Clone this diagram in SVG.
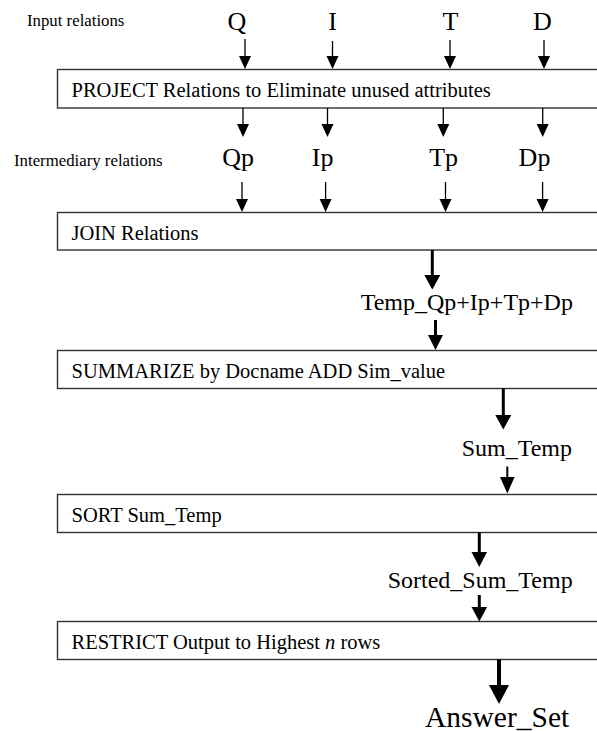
<svg xmlns="http://www.w3.org/2000/svg" width="597" height="731" viewBox="0 0 597 731">
<style>
  text { font-family: "Liberation Serif", "Times New Roman", serif; fill: #000; }
  .lab { font-size: 16.8px; }
  .rel { font-size: 26px; text-anchor: middle; }
  .mid { font-size: 24px; }
  .box { fill: #fff; stroke: #333; stroke-width: 1.4; }
  .bt { font-size: 20.5px; }
  .thin { stroke: #000; stroke-width: 1.3; fill: none; }
  .thk { stroke: #000; stroke-width: 3; fill: none; }
  .thk4 { stroke: #000; stroke-width: 4; fill: none; }
  .head { fill: #000; stroke: none; }
</style>
<rect width="597" height="731" fill="#fff"/>

<g id="labels">
  <text class="lab" x="27" y="26">Input relations</text>
  <text class="lab" x="14" y="166">Intermediary relations</text>
</g>

<g id="input-relations">
  <text class="rel" x="237" y="29.5">Q</text>
  <text class="rel" x="332.5" y="29.5">I</text>
  <text class="rel" x="450.5" y="29.5">T</text>
  <text class="rel" x="542.4" y="29.5">D</text>
</g>

<g id="project">
  <rect class="box" x="57.5" y="69.5" width="570" height="38.5"/>
  <text class="bt" x="71.5" y="96.8">PROJECT Relations to Eliminate unused attributes</text>
</g>

<g id="intermediary-relations">
  <text class="rel" x="238.2" y="165.5">Qp</text>
  <text class="rel" x="322.7" y="165.5">Ip</text>
  <text class="rel" x="443.6" y="165.5">Tp</text>
  <text class="rel" x="534.5" y="165.5">Dp</text>
</g>

<g id="join">
  <rect class="box" x="57.5" y="212.5" width="570" height="37.5"/>
  <text class="bt" x="71.5" y="239.5">JOIN Relations</text>
</g>

<g id="temp">
  <text class="mid" x="360.7" y="310">Temp_Qp+Ip+Tp+Dp</text>
</g>

<g id="summarize">
  <rect class="box" x="57.5" y="350.5" width="570" height="38"/>
  <text class="bt" x="71.5" y="377.8">SUMMARIZE by Docname ADD Sim_value</text>
</g>

<g id="sum-temp">
  <text class="mid" x="461.7" y="456">Sum_Temp</text>
</g>

<g id="sort">
  <rect class="box" x="57.5" y="494.5" width="570" height="38"/>
  <text class="bt" x="71.5" y="521.8">SORT Sum_Temp</text>
</g>

<g id="sorted-sum-temp">
  <text class="mid" x="387.7" y="588">Sorted_Sum_Temp</text>
</g>

<g id="restrict">
  <rect class="box" x="57.5" y="621.5" width="570" height="38"/>
  <text class="bt" x="71.5" y="648.5">RESTRICT Output to Highest <tspan font-style="italic">n</tspan> rows</text>
</g>

<g id="answer-set">
  <text x="425" y="726.5" font-size="29.5">Answer_Set</text>
</g>

<g id="connectors">
  <!-- inputs to PROJECT -->
  <line class="thin" x1="245" y1="39" x2="245" y2="57"/><polygon class="head" points="239,56 251,56 245,69"/>
  <line class="thin" x1="332.5" y1="41" x2="332.5" y2="57"/><polygon class="head" points="326.5,56 338.5,56 332.5,69"/>
  <line class="thin" x1="450" y1="40" x2="450" y2="57"/><polygon class="head" points="444,56 456,56 450,69"/>
  <line class="thin" x1="544" y1="40" x2="544" y2="57"/><polygon class="head" points="538,56 550,56 544,69"/>
  <!-- PROJECT to intermediary -->
  <line class="thin" x1="243" y1="108" x2="243" y2="125"/><polygon class="head" points="237,124 249,124 243,137"/>
  <line class="thin" x1="327.5" y1="108" x2="327.5" y2="125"/><polygon class="head" points="321.5,124 333.5,124 327.5,137"/>
  <line class="thin" x1="443.3" y1="108" x2="443.3" y2="125"/><polygon class="head" points="437.3,124 449.3,124 443.3,137"/>
  <line class="thin" x1="542.7" y1="108" x2="542.7" y2="125"/><polygon class="head" points="536.7,124 548.7,124 542.7,137"/>
  <!-- intermediary to JOIN -->
  <line class="thin" x1="242" y1="182" x2="242" y2="200"/><polygon class="head" points="236,199 248,199 242,212"/>
  <line class="thin" x1="325.6" y1="182" x2="325.6" y2="200"/><polygon class="head" points="319.6,199 331.6,199 325.6,212"/>
  <line class="thin" x1="445.5" y1="182" x2="445.5" y2="200"/><polygon class="head" points="439.5,199 451.5,199 445.5,212"/>
  <line class="thin" x1="542.6" y1="182" x2="542.6" y2="200"/><polygon class="head" points="536.6,199 548.6,199 542.6,212"/>
  <!-- JOIN to Temp -->
  <line class="thk" x1="432.3" y1="250" x2="432.3" y2="276"/><polygon class="head" points="424.3,275 440.3,275 432.3,289.5"/>
  <!-- Temp to SUMMARIZE -->
  <line class="thk" x1="435.5" y1="320" x2="435.5" y2="336"/><polygon class="head" points="428,335 443,335 435.5,350"/>
  <!-- SUMMARIZE to Sum_Temp -->
  <line class="thk" x1="503.3" y1="388.5" x2="503.3" y2="416"/><polygon class="head" points="495.3,415 511.3,415 503.3,429.5"/>
  <!-- Sum_Temp to SORT -->
  <line class="thk" x1="507.3" y1="466.5" x2="507.3" y2="478" style="stroke-width:2"/><polygon class="head" points="500,477 514.6,477 507.3,493.5"/>
  <!-- SORT to Sorted_Sum_Temp -->
  <line class="thk" x1="479.3" y1="532.5" x2="479.3" y2="553"/><polygon class="head" points="471.5,552 487,552 479.3,567"/>
  <!-- Sorted_Sum_Temp to RESTRICT -->
  <line class="thk" x1="479.3" y1="595" x2="479.3" y2="608"/><polygon class="head" points="471.5,607 487,607 479.3,621.5"/>
  <!-- RESTRICT to Answer_Set -->
  <line class="thk4" x1="499" y1="659.5" x2="499" y2="686"/><polygon class="head" points="489,685 509,685 499,704"/>
</g>
</svg>
